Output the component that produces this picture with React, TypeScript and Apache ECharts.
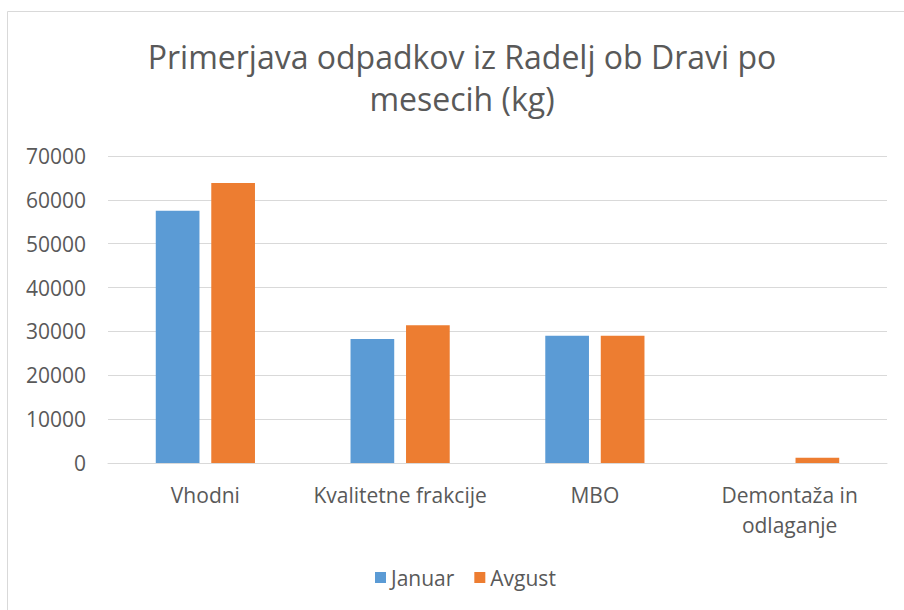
import React, { useEffect, useRef } from "react";
import * as echarts from "echarts";

const titleText = "Primerjava odpadkov iz Radelj ob Dravi po\nmesecih (kg)";
const categories = ["Vhodni", "Kvalitetne frakcije", "MBO", "Demontaža in odlaganje"];
const categoryLabels = ["Vhodni", "Kvalitetne frakcije", "MBO", "Demontaža in\nodlaganje"];
const seriesNames = ["Januar", "Avgust"];
const januarValues = [57500, 28300, 29000, 0];
const avgustValues = [63850, 31400, 29000, 1200];
const yTicks = { min: 0, max: 70000, interval: 10000 };

const FONT = "'Open Sans', sans-serif";
const TEXT = "#595959";
const GRID = "#d9d9d9";

export default function App() {
  const ref = useRef<HTMLDivElement>(null);
  useEffect(() => {
    if (!ref.current) return;
    const chart = echarts.init(ref.current, null, { renderer: "svg" });
    chart.setOption({
      animation: false,
      backgroundColor: "#ffffff",
      textStyle: { fontFamily: FONT },
      title: {
        text: titleText,
        left: 462,
        textAlign: "center",
        top: 35,
        padding: 0,
        textStyle: {
          fontFamily: FONT,
          fontSize: 32,
          fontWeight: "normal",
          color: TEXT,
          lineHeight: 42,
        },
      },
      graphic: [
        {
          type: "rect",
          shape: { x: 7.5, y: 11.5, width: 1000, height: 1000 },
          style: { fill: "none", stroke: GRID, lineWidth: 1 },
          silent: true,
          z: -1,
        },
      ],
      legend: {
        data: seriesNames,
        left: 370,
        top: 562,
        itemWidth: 11,
        itemHeight: 11,
        itemGap: 20,
        icon: "rect",
        textStyle: { fontFamily: FONT, fontSize: 21, color: TEXT },
      },
      grid: { left: 108, right: 17, top: 156, bottom: 147, containLabel: false },
      xAxis: {
        type: "category",
        data: categories,
        axisTick: { show: false },
        axisLine: { show: true, lineStyle: { color: GRID, width: 1 } },
        axisLabel: {
          interval: 0,
          margin: 17,
          fontFamily: FONT,
          fontSize: 21,
          color: TEXT,
          lineHeight: 30,
          formatter: (v: string) => categoryLabels[categories.indexOf(v)] ?? v,
        },
      },
      yAxis: {
        type: "value",
        min: yTicks.min,
        max: yTicks.max,
        interval: yTicks.interval,
        axisLine: { show: false },
        axisTick: { show: false },
        axisLabel: {
          margin: 22,
          fontFamily: FONT,
          fontSize: 21,
          color: TEXT,
          formatter: (v: number) => String(v),
        },
        splitLine: { lineStyle: { color: GRID, width: 1 } },
      },
      series: [
        {
          name: seriesNames[0],
          type: "bar",
          data: januarValues,
          barWidth: 43.7,
          barGap: "27%",
          itemStyle: { color: "#5B9BD5" },
        },
        {
          name: seriesNames[1],
          type: "bar",
          data: avgustValues,
          barWidth: 43.7,
          barGap: "27%",
          itemStyle: { color: "#ED7D31" },
        },
      ],
    });
    return () => chart.dispose();
  }, []);
  return (
    <div
      ref={ref}
      style={{ position: "fixed", left: 0, top: 0, width: 904, height: 610 }}
    />
  );
}
